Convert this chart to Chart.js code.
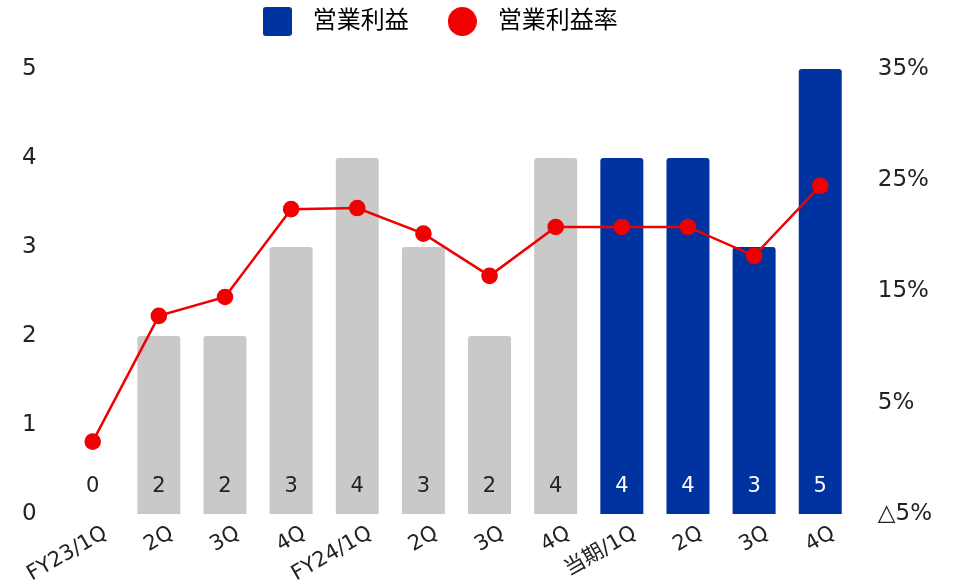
<!DOCTYPE html>
<html>
<head>
<meta charset="utf-8">
<script src="https://cdn.jsdelivr.net/npm/chart.js@4"></script>
<style>
  body { margin: 0; background: #fff; }
  #wrap { width: 962px; height: 586px; }
</style>
</head>
<body>
<div id="wrap"><canvas id="chart1"></canvas></div>
<script>
const quarters = ['FY23/1Q','2Q','3Q','4Q','FY24/1Q','2Q','3Q','4Q','当期/1Q','2Q','3Q','4Q'];
const profit = [0, 2, 2, 3, 4, 3, 2, 4, 4, 4, 3, 5];
const margin = [1.5, 12.8, 14.5, 22.4, 22.5, 20.2, 16.4, 20.8, 20.8, 20.8, 18.2, 24.5];
// first 8 quarters are past years (grey), the rest are this year (blue)
const isCurrent = [false,false,false,false,false,false,false,false,true,true,true,true];

const GREY = '#c9c9c9';
const BLUE = '#00339f';
const RED = '#f00000';
const FONT = "'DejaVu Sans', 'Noto Sans CJK JP', sans-serif";

// legend marks: rounded square and dot, 29px
function legendMark(color, radius) {
  const c = document.createElement('canvas');
  c.width = 29;
  c.height = 29;
  const g = c.getContext('2d');
  g.fillStyle = color;
  g.beginPath();
  g.roundRect(0, 0, 29, 29, radius);
  g.fill();
  return c;
}

// bar values written near the foot of each bar
const barValues = {
  id: 'barValues',
  afterDatasetsDraw(chart) {
    const ctx = chart.ctx;
    const meta = chart.getDatasetMeta(0);
    const base = chart.scales.y.getPixelForValue(0);
    ctx.save();
    ctx.font = '21px ' + FONT;
    ctx.textAlign = 'center';
    ctx.textBaseline = 'middle';
    meta.data.forEach((bar, i) => {
      ctx.fillStyle = isCurrent[i] ? '#ffffff' : '#222222';
      ctx.fillText(String(profit[i]), bar.x, base - 27);
    });
    ctx.restore();
  }
};

// more room under the legend, and legend nudged left
const legendSpace = {
  id: 'legendSpace',
  beforeInit(chart) {
    const fit = chart.legend.fit;
    chart.legend.fit = function () {
      fit.call(this);
      this.height += 25.5;
    };
  },
  afterLayout(chart) {
    chart.legend.left -= 42;
    chart.legend.right -= 42;
  }
};

new Chart('chart1', {
  type: 'bar',
  data: {
    labels: quarters,
    datasets: [{
      label: '営業利益',
      data: profit,
      backgroundColor: isCurrent.map(c => c ? BLUE : GREY),
      borderRadius: {topLeft: 3, topRight: 3},
      borderSkipped: 'bottom',
      barPercentage: 0.65,
      categoryPercentage: 1,
      yAxisID: 'y',
      order: 2
    }, {
      type: 'line',
      label: '営業利益率',
      data: margin,
      borderColor: RED,
      backgroundColor: RED,
      borderWidth: 2.5,
      pointRadius: 8.3,
      pointHoverRadius: 8.3,
      pointBackgroundColor: RED,
      pointBorderWidth: 0,
      tension: 0,
      yAxisID: 'y1',
      order: 1
    }]
  },
  options: {
    responsive: true,
    maintainAspectRatio: false,
    animation: false,
    layout: {padding: {left: 7, right: 13.5, top: -20.5, bottom: 0}},
    plugins: {
      tooltip: {enabled: false},
      legend: {
        display: true,
        position: 'top',
        labels: {
          usePointStyle: true,
          pointStyleWidth: 47,
          padding: 30,
          color: '#222',
          font: {family: FONT, size: 24},
          generateLabels: () => [
            {text: '営業利益', pointStyle: legendMark(BLUE, 3), fillStyle: BLUE, lineWidth: 0, datasetIndex: 0},
            {text: '営業利益率', pointStyle: legendMark(RED, 14.5), fillStyle: RED, lineWidth: 0, datasetIndex: 1}
          ]
        }
      }
    },
    scales: {
      x: {
        grid: {display: false},
        border: {display: false},
        ticks: {
          color: '#222',
          font: {family: FONT, size: 21},
          minRotation: 30,
          maxRotation: 30,
          labelOffset: 13,
          padding: -1
        }
      },
      y: {
        position: 'left',
        min: 0,
        max: 5,
        grid: {display: false},
        border: {display: false},
        ticks: {
          stepSize: 1,
          color: '#222',
          font: {family: FONT, size: 23},
          padding: 15
        }
      },
      y1: {
        position: 'right',
        min: -5,
        max: 35,
        grid: {display: false},
        border: {display: false},
        ticks: {
          stepSize: 10,
          color: '#222',
          font: {family: FONT, size: 23},
          padding: 16.5,
          callback: v => (v < 0 ? '△' + Math.abs(v) : v) + '%'
        }
      }
    }
  },
  plugins: [barValues, legendSpace]
});
</script>
</body>
</html>
